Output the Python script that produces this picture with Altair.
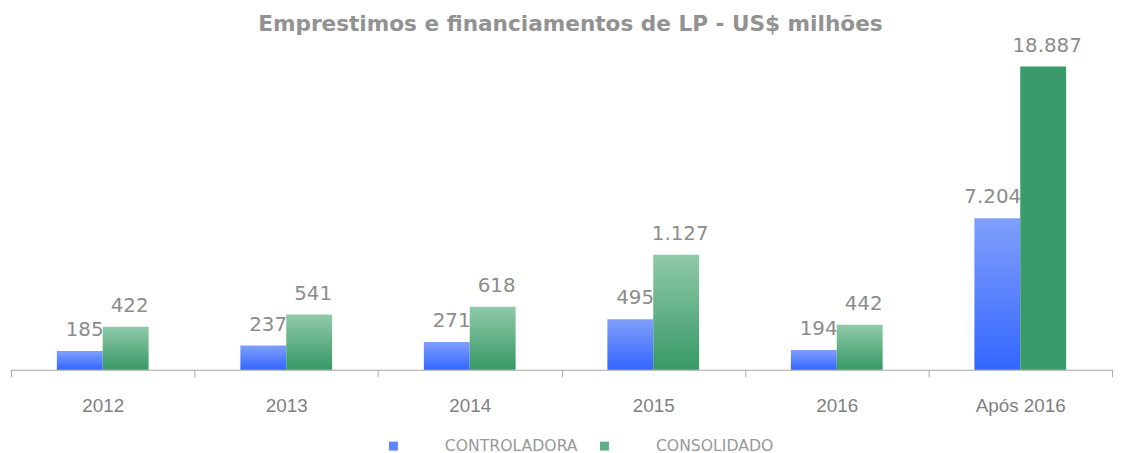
import altair as alt
import pandas as pd

# ---- data ----
anos = ["2012", "2013", "2014", "2015", "2016", "Após 2016"]
controladora = [185, 237, 271, 495, 194, 7204]
consolidado = [422, 541, 618, 1127, 442, 18887]
series = ["CONTROLADORA", "CONSOLIDADO"]
titulo = "Emprestimos e financiamentos de LP - US$ milhões"

rows = []
for a, v1, v2 in zip(anos, controladora, consolidado):
    rows.append({"ano": a, "serie": series[0], "valor": v1})
    rows.append({"ano": a, "serie": series[1], "valor": v2})
df = pd.DataFrame(rows)
df["rotulo"] = df["valor"].map(lambda v: f"{v:,}".replace(",", "."))

# ---- layout ----
W = 1111
H = 329
# the source chart is not drawn to a single proportional scale: piecewise linear scale
y_domain = [0, 1127, 7204, 18887]
y_range = [H, H - 116, H - 153, H - 306]

blue_grad = {
    "gradient": "linear", "x1": 0, "y1": 0, "x2": 0, "y2": 1,
    "stops": [{"offset": 0, "color": "#809ffb"}, {"offset": 1, "color": "#3366ff"}],
}
green_grad = {
    "gradient": "linear", "x1": 0, "y1": 0, "x2": 0, "y2": 1,
    "stops": [{"offset": 0, "color": "#90caa9"}, {"offset": 1, "color": "#379865"}],
}
green_solid = "#3a9a69"

x_enc = alt.X(
    "ano:N", sort=anos,
    scale=alt.Scale(paddingInner=0, paddingOuter=0),
    axis=alt.Axis(title=None, labelAngle=0, tickBand="extent", tickSize=7,
                  domainColor="#a6a6a6", tickColor="#a6a6a6", domainWidth=1.2,
                  labelFont="Liberation Sans", labelFontSize=19, labelColor="#7f7f7f",
                  labelPadding=20),
)
xo_enc = alt.XOffset("serie:N", sort=series,
                     scale=alt.Scale(domain=series, paddingInner=0, paddingOuter=1))
y_enc = alt.Y("valor:Q", scale=alt.Scale(domain=y_domain, range=y_range, nice=False, zero=True), axis=None)

base = alt.Chart(df).encode(x=x_enc, xOffset=xo_enc, y=y_enc)

bars_ctrl = base.transform_filter(alt.datum.serie == series[0]).mark_bar(fill=blue_grad)
bars_cons = base.transform_filter(alt.datum.serie == series[1]).mark_bar().encode(
    fill=alt.condition(alt.datum.ano == anos[-1], alt.value(green_solid), alt.value(green_grad))
)

txt_ctrl = base.transform_filter(alt.datum.serie == series[0]).mark_text(
    align="right", baseline="alphabetic", dx=24, dy=-15,
    font="DejaVu Sans", fontSize=20, color="#8c8c8c"
).encode(text="rotulo:N")
txt_cons = base.transform_filter(alt.datum.serie == series[1]).mark_text(
    align="center", baseline="alphabetic", dx=4, dy=-15,
    font="DejaVu Sans", fontSize=20, color="#8c8c8c"
).encode(text="rotulo:N")

legend_layer = base.mark_square(size=0, opacity=1).encode(
    color=alt.Color(
        "serie:N", sort=series,
        scale=alt.Scale(domain=series, range=["#5f85fd", "#5fae85"]),
        legend=alt.Legend(
            title=None, orient="none", direction="horizontal",
            legendX=378, legendY=398, symbolType="square", symbolSize=81,
            symbolStrokeWidth=0, labelOffset=44, columnPadding=19, padding=0,
            labelFont="DejaVu Sans", labelFontSize=15.8, labelColor="#999999",
        ),
    )
)

chart = alt.layer(bars_ctrl, bars_cons, txt_ctrl, txt_cons, legend_layer).properties(
    width=W, height=H,
    title=alt.TitleParams(
        titulo, anchor="middle", font="DejaVu Sans", fontSize=21.8, fontWeight="bold",
        color="#929292", offset=0, dx=9,
    ),
    padding={"left": 2, "top": 4, "right": 0, "bottom": 0},
).configure_view(stroke=None)

chart.save("out.html", embed_options={"renderer": "svg", "actions": False})
